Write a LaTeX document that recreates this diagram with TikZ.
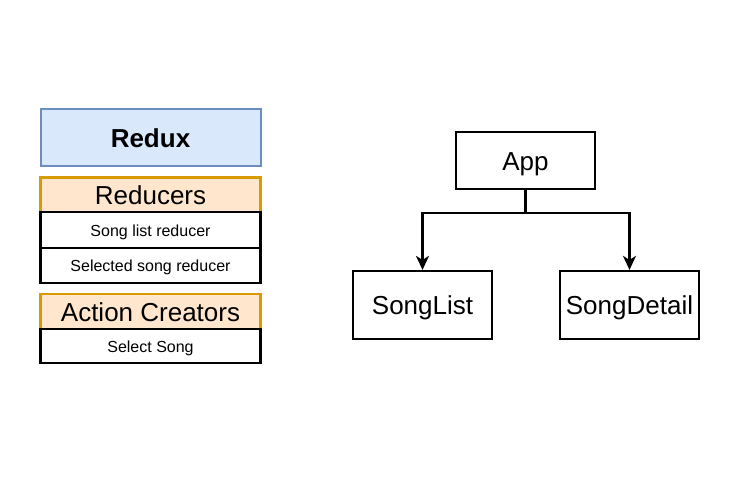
\documentclass[tikz,border=0pt]{standalone}
\usepackage{fontspec}
\setmainfont{Liberation Sans}
\usetikzlibrary{arrows.meta}
\definecolor{bluefill}{HTML}{DAE8FC}
\definecolor{blueline}{HTML}{6C8EBF}
\definecolor{orangefill}{HTML}{FFE6CC}
\definecolor{orangeline}{HTML}{D79B00}
\tikzset{
  box/.style={draw=black, line width=2.2pt, fill=white, rectangle, inner sep=0pt, align=center},
  big/.style={font=\fontsize{26}{30}\selectfont, text height=19.6pt, text depth=0pt},
  small/.style={font=\fontsize{16}{19}\selectfont, text height=12.5pt, text depth=0pt},
  reduxbox/.style={box, line width=2pt, draw=blueline, fill=bluefill, font=\fontsize{26}{30}\selectfont\bfseries, text height=19.6pt, text depth=0pt},
  headbox/.style={box, draw=orangeline, fill=orangefill, big},
  leftbox/.style={minimum width=220pt},
  compbox/.style={box, big, minimum width=139pt},
  conn/.style={line width=2.2pt, draw=black},
  arr/.style={conn, -{Stealth[length=14pt,width=13pt,inset=4pt]}}
}
\begin{document}
\begin{tikzpicture}[x=1pt,y=-1pt]
\useasboundingbox (0,0) rectangle (756,489);
\node[reduxbox, leftbox, minimum height=57pt] (redux) at (150.5,138) {Redux};
\node[headbox, leftbox, minimum height=35pt] (reducers) at (150.5,195) {Reducers};
\node[box, small, leftbox, minimum height=35.5pt] (slr) at (150.5,230) {Song list reducer};
\node[box, small, leftbox, minimum height=35.5pt] (ssr) at (150.5,265.5) {Selected song reducer};
\node[headbox, leftbox, minimum height=35pt] (ac) at (150.5,311.5) {Action Creators};
\node[box, small, leftbox, minimum height=34.5pt] (ss) at (150.5,346) {Select Song};
\node[compbox, minimum height=57pt] (app) at (525.5,160.5) {App};
\node[compbox, minimum height=68pt] (songlist) at (422.5,305) {SongList};
\node[compbox, minimum height=68pt] (songdetail) at (629.5,305) {SongDetail};
\coordinate (j) at (525.5,213);
\draw[conn] (app.south) -- (j);
\draw[arr] (j) -| (songlist.north);
\draw[arr] (j) -| (songdetail.north);
\end{tikzpicture}
\end{document}
